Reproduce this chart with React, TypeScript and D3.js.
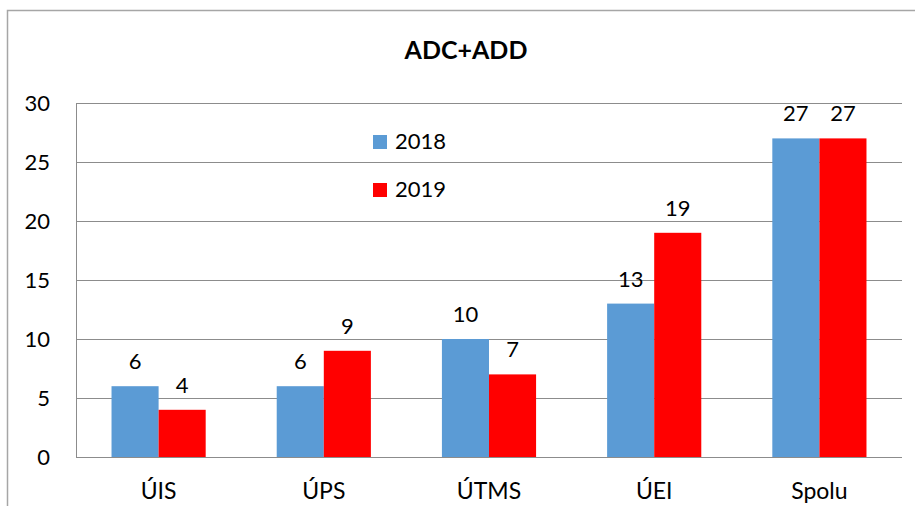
import React from 'react'
import * as d3 from 'd3'

const categories = ['ÚIS', 'ÚPS', 'ÚTMS', 'ÚEI', 'Spolu']
const values2018 = [6, 6, 10, 13, 27]
const values2019 = [4, 9, 7, 19, 27]
const seriesNames = ['2018', '2019']
const yTicks = [0, 5, 10, 15, 20, 25, 30]

const colors = ['#5B9BD5', '#FF0000']
const font = 'Lato, Carlito, Calibri, sans-serif'

export default function App() {
  const width = 915
  const height = 506
  const margin = {top: 103, right: 13, bottom: 49, left: 76}
  const innerW = width - margin.left - margin.right
  const innerH = height - margin.top - margin.bottom

  // scales
  const x = d3.scaleBand().domain(categories).range([0, innerW]).paddingInner(0.43).paddingOuter(0.215)
  const xs = d3.scaleBand().domain(seriesNames).range([0, x.bandwidth()])
  const y = d3.scaleLinear().domain([0, 30]).range([innerH, 0])

  const series = [values2018, values2019]

  return (
    <svg width={width} height={height} style={{position: 'absolute', left: 0, top: 0}}>
      <rect x={0} y={0} width={width} height={height} fill="#fff" />
      <rect x={7.5} y={10.5} width={940} height={540} fill="none" stroke="#a6a6a6" strokeWidth={1.5} />
      <text x={466} y={59} textAnchor="middle" fontFamily={font} fontWeight="bold" fontSize={25}>ADC+ADD</text>
      <g transform={`translate(${margin.left},${margin.top})`}>
        {/* gridlines + y tick labels */}
        {yTicks.map(t => (
          <g key={t}>
            <line x1={0} x2={innerW} y1={Math.round(y(t)) + 0.5} y2={Math.round(y(t)) + 0.5} stroke="#8c8c8c" strokeWidth={1} />
            <text x={-26} y={y(t) + 8} textAnchor="end" fontFamily={font} fontSize={22} fill="#000">{t}</text>
          </g>
        ))}
        <line x1={0.5} x2={0.5} y1={0} y2={innerH} stroke="#8c8c8c" />
        {/* bars */}
        {series.map((vals, si) => (
          <g key={si}>
            {vals.map((v, i) => {
              const bx = (x(categories[i]) || 0) + (xs(seriesNames[si]) || 0)
              return (
                <g key={i}>
                  <rect x={bx} y={y(v)} width={xs.bandwidth()} height={innerH - y(v)} fill={colors[si]} />
                  <text x={bx + xs.bandwidth() / 2} y={y(v) - 17} textAnchor="middle" fontFamily={font} fontSize={22}>{v}</text>
                </g>
              )
            })}
          </g>
        ))}
        {/* category labels */}
        {categories.map(c => (
          <text key={c} x={(x(c) || 0) + x.bandwidth() / 2} y={innerH + 42} textAnchor="middle" fontFamily={font} fontSize={23}>{c}</text>
        ))}
      </g>
      {/* legend */}
      {seriesNames.map((s, i) => (
        <g key={s} transform={`translate(373,${135 + i * 48})`}>
          <rect x={0} y={0} width={14} height={14} fill={colors[i]} />
          <text x={22} y={14} fontFamily={font} fontSize={22}>{s}</text>
        </g>
      ))}
    </svg>
  )
}
